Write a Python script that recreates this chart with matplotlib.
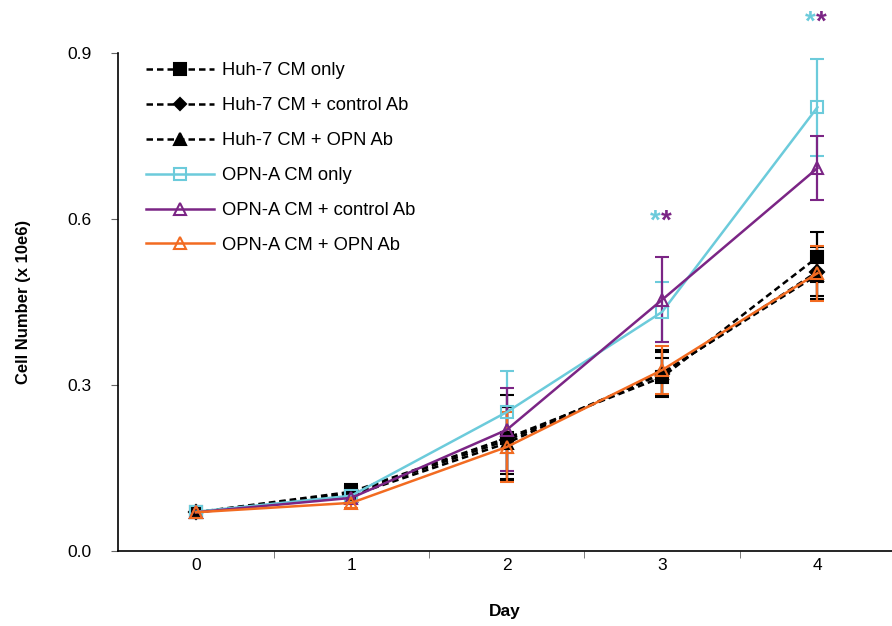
import matplotlib
import numpy as np

matplotlib.use("Agg")
import matplotlib.pyplot as plt  # noqa: E402
from matplotlib.lines import Line2D  # noqa: E402

plt.rcParams["font.family"] = ["Liberation Sans", "DejaVu Sans"]

days = [0, 1, 2, 3, 4]

huh7_only = [0.070, 0.107, 0.204, 0.314, 0.531]
huh7_only_err = [0.004, 0.015, 0.078, 0.035, 0.045]
huh7_ctrl = [0.070, 0.104, 0.200, 0.320, 0.505]
huh7_ctrl_err = [0.004, 0.012, 0.060, 0.040, 0.045]
huh7_opn = [0.070, 0.100, 0.195, 0.322, 0.499]
huh7_opn_err = [0.004, 0.010, 0.065, 0.042, 0.044]

opna_only = [0.071, 0.100, 0.251, 0.432, 0.802]
opna_only_err = [0.004, 0.010, 0.074, 0.055, 0.088]
opna_ctrl = [0.070, 0.096, 0.219, 0.454, 0.692]
opna_ctrl_err = [0.004, 0.010, 0.075, 0.077, 0.058]
opna_opn = [0.070, 0.087, 0.188, 0.327, 0.502]
opna_opn_err = [0.004, 0.010, 0.063, 0.043, 0.050]

labels = ["Huh-7 CM only", "Huh-7 CM + control Ab", "Huh-7 CM + OPN Ab",
          "OPN-A CM only", "OPN-A CM + control Ab", "OPN-A CM + OPN Ab"]

# significance stars (cyan = OPN-A only, purple = OPN-A + control Ab)
star_days = [3, 4]
star_y = [0.595, 0.955]

CYAN = "#6CCBDB"
PURPLE = "#7B2585"
ORANGE = "#F26B21"
DASH = (0, (2.6, 1.6))

fig = plt.figure(figsize=(8.92, 6.26), dpi=100)
ax = fig.add_axes([0.1323, 0.1198, 0.8677, 0.7955])

series = [
    (huh7_only, huh7_only_err, dict(color="black", marker="s", ls=DASH, mfc="black")),
    (huh7_ctrl, huh7_ctrl_err, dict(color="black", marker="D", ls=DASH, mfc="black", ms=7)),
    (huh7_opn, huh7_opn_err, dict(color="black", marker="^", ls=DASH, mfc="black")),
    (opna_only, opna_only_err, dict(color=CYAN, marker="s", ls="-", mfc="none")),
    (opna_ctrl, opna_ctrl_err, dict(color=PURPLE, marker="^", ls="-", mfc="none")),
    (opna_opn, opna_opn_err, dict(color=ORANGE, marker="^", ls="-", mfc="none")),
]

handles = []
for (vals, errs, st), lab in zip(series, labels):
    st = dict(st)
    ms = st.pop("ms", 9)
    ax.errorbar(days, vals, yerr=errs, capsize=5, capthick=1.6,
                elinewidth=1.6, lw=1.8, ms=ms, mew=1.5, **st)
    handles.append(Line2D([], [], lw=1.8, ms=ms - 1, mew=1.5, label=lab, **st))

for d, y in zip(star_days, star_y):
    ax.text(d - 0.01, y, "*", color=CYAN, fontsize=20, fontweight="bold",
            ha="right", va="center", clip_on=False)
    ax.text(d - 0.01, y, "*", color=PURPLE, fontsize=20, fontweight="bold",
            ha="left", va="center", clip_on=False)

ax.set_xlim(-0.502, 4.48)
ax.set_ylim(0, 0.9)
ax.set_yticks([0.0, 0.3, 0.6, 0.9])
ax.set_yticklabels(["0.0", "0.3", "0.6", "0.9"])
ax.set_xticks(days)
ax.set_xticks(np.arange(0.5, 4.0, 1.0), minor=True)
ax.tick_params(axis="x", which="major", length=0, labelsize=12.5, pad=5)
ax.tick_params(axis="x", which="minor", length=5, direction="out", color="0.4")
ax.tick_params(axis="y", length=5, direction="out", color="0.4", labelsize=12.5,
               pad=14)
for side in ("top", "right"):
    ax.spines[side].set_visible(False)
for side in ("left", "bottom"):
    ax.spines[side].set_linewidth(1.2)

ax.set_xlabel("Day", fontsize=12.5, fontweight="bold", labelpad=22)
ax.set_ylabel("Cell Number (x 10e6)", fontsize=12, fontweight="bold", labelpad=26)

ax.legend(handles=handles, loc="upper left", bbox_to_anchor=(0.015, 1.015),
          frameon=False, fontsize=13.2, handlelength=3.7,
          labelspacing=0.98, handletextpad=0.45)

fig.savefig("out.png", dpi=100)
